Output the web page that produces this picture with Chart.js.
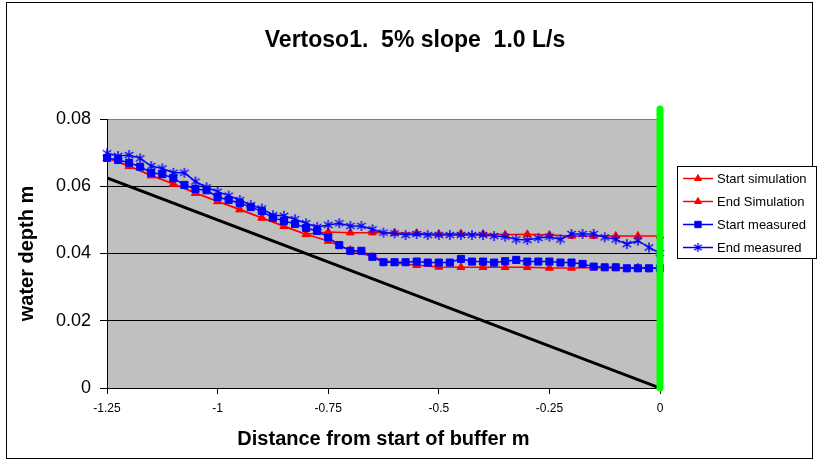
<!DOCTYPE html>
<html><head><meta charset="utf-8">
<script src="https://cdn.jsdelivr.net/npm/chart.js@4/dist/chart.umd.min.js"></script>
<style>html,body{margin:0;padding:0;background:#fff}#wrap{width:817px;height:466px;position:relative}</style>
</head><body><div id="wrap"><canvas id="c" width="817" height="466"></canvas></div>
<script>
const titleText = 'Vertoso1.  5% slope  1.0 L/s';
const xTitle = 'Distance from start of buffer m';
const yTitle = 'water depth m';
const xTickLabels = ['-1.25','-1','-0.75','-0.5','-0.25','0'];
const yTickLabels = ['0','0.02','0.04','0.06','0.08'];
const seriesNames = ['Start simulation','End Simulation','Start measured','End measured'];

const simX = [-1.25,-1.2,-1.15,-1.1,-1.05,-1,-0.95,-0.9,-0.85,-0.8,-0.75,-0.7,-0.65,-0.6,-0.55,-0.5,-0.45,-0.4,-0.35,-0.3,-0.25,-0.2,-0.15,-0.1,-0.05,0];
const startSim = [0.0684,0.0660,0.0632,0.0607,0.0580,0.0555,0.0531,0.0506,0.0481,0.0457,0.0437,0.0410,0.0390,0.0372,0.0365,0.0360,0.0359,0.0359,0.0359,0.0359,0.0357,0.0357,0.0358,0.0357,0.0358,0.0357];
const endSim = [0.0684,0.0660,0.0632,0.0607,0.0580,0.0555,0.0531,0.0506,0.0481,0.0457,0.0464,0.0462,0.0462,0.0461,0.0460,0.0458,0.0459,0.0458,0.0456,0.0457,0.0455,0.0452,0.0452,0.0452,0.0452,0.0452];

const measX = [-1.25,-1.225,-1.2,-1.175,-1.15,-1.125,-1.1,-1.075,-1.05,-1.025,-1,-0.975,-0.95,-0.925,-0.9,-0.875,-0.85,-0.825,-0.8,-0.775,-0.75,-0.725,-0.7,-0.675,-0.65,-0.625,-0.6,-0.575,-0.55,-0.525,-0.5,-0.475,-0.45,-0.425,-0.4,-0.375,-0.35,-0.325,-0.3,-0.275,-0.25,-0.225,-0.2,-0.175,-0.15,-0.125,-0.1,-0.075,-0.05,-0.025,0];
const startMeas = [0.0684,0.0678,0.0670,0.0658,0.0640,0.0636,0.0624,0.0604,0.0592,0.0588,0.0568,0.0559,0.0550,0.0538,0.0526,0.0506,0.0497,0.0488,0.0476,0.0467,0.0448,0.0425,0.0408,0.0408,0.0390,0.0374,0.0374,0.0374,0.0376,0.0373,0.0373,0.0373,0.0384,0.0376,0.0376,0.0373,0.0377,0.0381,0.0376,0.0376,0.0376,0.0373,0.0373,0.0369,0.0361,0.0359,0.0359,0.0356,0.0356,0.0356,0.0356];
const endMeas = [0.0698,0.0690,0.0693,0.0683,0.0660,0.0653,0.0640,0.0640,0.0614,0.0597,0.0584,0.0572,0.0559,0.0544,0.0534,0.0514,0.0512,0.0502,0.0490,0.0479,0.0485,0.0490,0.0482,0.0482,0.0472,0.0462,0.0460,0.0455,0.0458,0.0455,0.0455,0.0455,0.0455,0.0455,0.0455,0.0452,0.0450,0.0442,0.0440,0.0446,0.0450,0.0442,0.0458,0.0458,0.0458,0.0448,0.0442,0.0428,0.0438,0.0418,0.0401];

const bedX = [-1.25, 0];
const bedY = [0.0625, 0];
const edgeX = [0, 0];
const edgeY = [0, 0.083];

const RED = '#FF0000', BLUE = '#0000FF', GREEN = '#00FF00';
const FONT = "'Liberation Sans', Arial, sans-serif";
Chart.defaults.font.family = FONT;
Chart.defaults.color = '#000';

const pts = (xs, ys) => xs.map((x, i) => ({x: x, y: ys[i]}));

// Excel-like asterisk marker (vertical bar + X)
function asterisk(size, color) {
  const c = document.createElement('canvas');
  c.width = size; c.height = size;
  const g = c.getContext('2d');
  const h = size / 2, r = size / 2 - 1;
  g.strokeStyle = color; g.lineWidth = 1.4;
  g.beginPath();
  g.moveTo(h, h - r); g.lineTo(h, h + r);
  g.moveTo(h - r * 0.85, h - r * 0.6); g.lineTo(h + r * 0.85, h + r * 0.6);
  g.moveTo(h - r * 0.85, h + r * 0.6); g.lineTo(h + r * 0.85, h - r * 0.6);
  g.stroke();
  return c;
}
const starImg = asterisk(12, BLUE);
const starImgLegend = asterisk(11, BLUE);

const styles = [
  {color: RED, pointStyle: 'triangle', radius: 4.5, pbw: 1},
  {color: RED, pointStyle: 'triangle', radius: 4.5, pbw: 1},
  {color: BLUE, pointStyle: 'rect', radius: 5, pbw: 1},
  {color: BLUE, pointStyle: starImg, radius: 5, pbw: 1.5}
];

const bgPlugin = {
  id: 'bg',
  beforeDraw(chart) {
    const ctx = chart.ctx, a = chart.chartArea;
    ctx.save();
    ctx.fillStyle = '#fff';
    ctx.fillRect(0, 0, chart.width, chart.height);
    ctx.fillStyle = '#C0C0C0';
    ctx.fillRect(a.left, a.top, a.right - a.left, a.bottom - a.top);
    ctx.restore();
  },
  afterDraw(chart) {
    const ctx = chart.ctx;
    ctx.save();
    ctx.strokeStyle = '#000';
    ctx.lineWidth = 1;
    ctx.strokeRect(6.5, 2.5, 806, 456);
    ctx.fillStyle = '#000';
    ctx.font = 'bold 23px ' + FONT;
    ctx.textAlign = 'center';
    ctx.textBaseline = 'middle';
    ctx.fillText(titleText, 415, 41);
    ctx.fillStyle = '#fff';
    ctx.fillRect(677.5, 166.5, 139, 92);
    ctx.strokeStyle = '#000';
    ctx.strokeRect(677.5, 166.5, 139, 92);
    ctx.font = '13px ' + FONT;
    ctx.textAlign = 'left';
    seriesNames.forEach((name, i) => {
      const y = 178.5 + i * 23;
      const s = styles[i];
      ctx.strokeStyle = s.color;
      ctx.fillStyle = s.color;
      ctx.lineWidth = 1.5;
      ctx.beginPath();
      ctx.moveTo(683, y);
      ctx.lineTo(713, y);
      ctx.stroke();
      ctx.lineWidth = s.pbw;
      const ps = (i === 3) ? starImgLegend : s.pointStyle;
      Chart.helpers.drawPoint(ctx, {pointStyle: ps, radius: s.radius - 0.5, borderWidth: s.pbw, rotation: 0}, 698, y);
      ctx.fillStyle = '#000';
      ctx.textBaseline = 'middle';
      ctx.fillText(name, 717, y + 0.5);
    });
    ctx.restore();
  }
};

const mk = (i, xs, ys, order) => ({
  label: seriesNames[i],
  data: pts(xs, ys),
  borderColor: styles[i].color,
  backgroundColor: styles[i].color,
  pointBackgroundColor: styles[i].color,
  pointBorderColor: styles[i].color,
  pointStyle: styles[i].pointStyle,
  pointRadius: styles[i].radius,
  pointBorderWidth: styles[i].pbw,
  borderWidth: 1.5,
  clip: false,
  order: order
});

new Chart(document.getElementById('c'), {
  type: 'line',
  data: {
    datasets: [
      mk(0, simX, startSim, 5),
      mk(1, simX, endSim, 4),
      mk(2, measX, startMeas, 3),
      mk(3, measX, endMeas, 2),
      {label: 'bed', data: pts(bedX, bedY), borderColor: '#000', borderWidth: 3, pointRadius: 0, order: 1},
      {label: 'edge', data: pts(edgeX, edgeY), borderColor: GREEN, borderWidth: 7, borderCapStyle: 'round', pointRadius: 0, clip: false, order: 0}
    ]
  },
  options: {
    responsive: false,
    animation: false,
    devicePixelRatio: 1,
    layout: {padding: {left: 0, right: 157, top: 119, bottom: 0}},
    plugins: {legend: {display: false}, tooltip: {enabled: false}, title: {display: false}},
    scales: {
      x: {
        type: 'linear', position: 'bottom', min: -1.25, max: 0,
        ticks: {stepSize: 0.25, autoSkip: false, maxRotation: 0, padding: 7, font: {size: 12},
          callback: v => xTickLabels[Math.round((v + 1.25) / 0.25)]},
        grid: {drawOnChartArea: false, drawTicks: true, tickLength: 6, color: '#000', tickColor: '#000'},
        border: {color: '#000', width: 1},
        title: {display: true, text: xTitle, font: {size: 20, weight: 'bold'}, padding: {top: 0, bottom: 15}},
        afterFit: s => { s.height = 78; }
      },
      y: {
        type: 'linear', min: 0, max: 0.08,
        ticks: {stepSize: 0.02, padding: 9, font: {size: 18},
          callback: v => yTickLabels[Math.round(v / 0.02)]},
        grid: {color: c => (c.tick && c.tick.value > 0.079) ? '#808080' : '#000', tickColor: '#000', tickLength: 7, lineWidth: 1},
        border: {color: '#000', width: 1},
        title: {display: true, text: yTitle, font: {size: 20, weight: 'bold'}, padding: {top: 15, bottom: 0}},
        afterFit: s => { s.width = 107; }
      }
    }
  },
  plugins: [bgPlugin]
});
</script>
</body></html>
